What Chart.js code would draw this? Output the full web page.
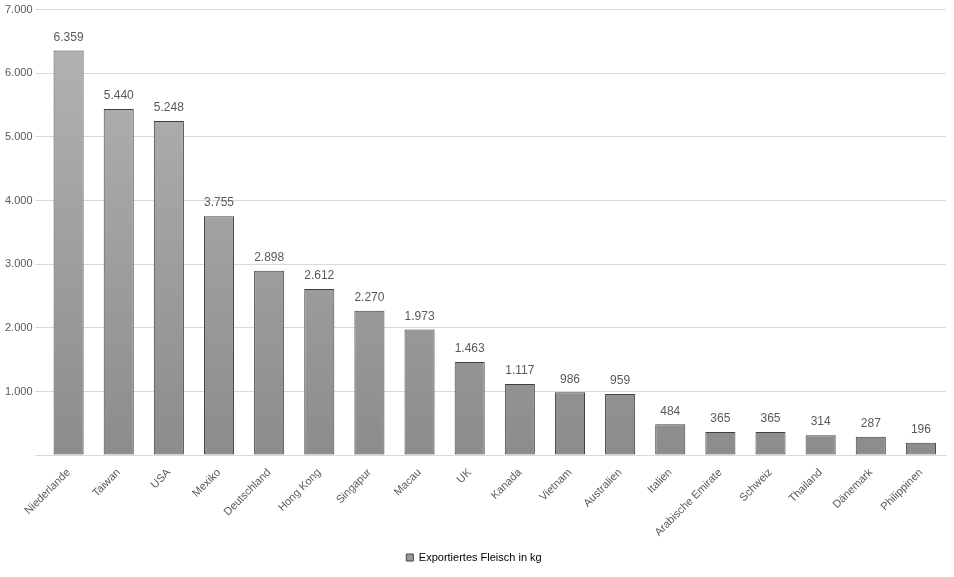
<!DOCTYPE html>
<html><head><meta charset="utf-8">
<script src="https://cdn.jsdelivr.net/npm/chart.js@4"></script>
<style>html,body{margin:0;padding:0;background:#fff}#w{width:954px;height:577px}</style>
</head><body><div id="w"><canvas id="c"></canvas></div>
<script>
const categories=["Niederlande","Taiwan","USA","Mexiko","Deutschland","Hong Kong","Singapur","Macau","UK","Kanada","Vietnam","Australien","Italien","Arabische Emirate","Schweiz","Thailand","Dänemark","Philippinen"];
const values=[6359,5440,5248,3755,2898,2612,2270,1973,1463,1117,986,959,484,365,365,314,287,196];
const seriesName="Exportiertes Fleisch in kg";
const fmt=v=>v.toLocaleString('de-DE');
const labelPlugin={id:'lbl',afterDatasetsDraw(ch){const ctx=ch.ctx;ctx.save();ctx.font='12px "Liberation Sans", Arial';ctx.fillStyle='#595959';ctx.textAlign='center';ctx.textBaseline='bottom';
ch.getDatasetMeta(0).data.forEach((b,i)=>ctx.fillText(fmt(values[i]),b.x,b.y-7));ctx.restore();}};
new Chart(document.getElementById('c'),{type:'bar',
data:{labels:categories,datasets:[{label:seriesName,data:values,
backgroundColor:(c)=>{const a=c.chart.chartArea;if(!a)return '#999';const g=c.chart.ctx.createLinearGradient(0,a.top,0,a.bottom);g.addColorStop(0,'#b5b5b5');g.addColorStop(1,'#8c8c8c');return g;},
borderColor:'#404040',borderWidth:1,borderSkipped:false,barPercentage:0.6,categoryPercentage:1}]},
options:{responsive:true,maintainAspectRatio:false,animation:false,
layout:{padding:{left:2,right:8,top:6,bottom:4}},
plugins:{legend:{position:'bottom',labels:{boxWidth:7,boxHeight:7,color:'#595959',font:{size:11,family:'"Liberation Sans", Arial'},
generateLabels:()=>[{text:seriesName,fillStyle:'#999',strokeStyle:'#404040',lineWidth:1}]}},tooltip:{enabled:false}},
scales:{x:{grid:{display:false},border:{color:'#d9d9d9'},ticks:{color:'#595959',maxRotation:45,minRotation:45,font:{size:11,family:'"Liberation Sans", Arial'}}},
y:{min:0,max:7000,grid:{color:'#d9d9d9'},border:{display:false},ticks:{stepSize:1000,color:'#595959',font:{size:11,family:'"Liberation Sans", Arial'},callback:v=>v===0?'':fmt(v)}}}},
plugins:[labelPlugin]});
</script></body></html>
